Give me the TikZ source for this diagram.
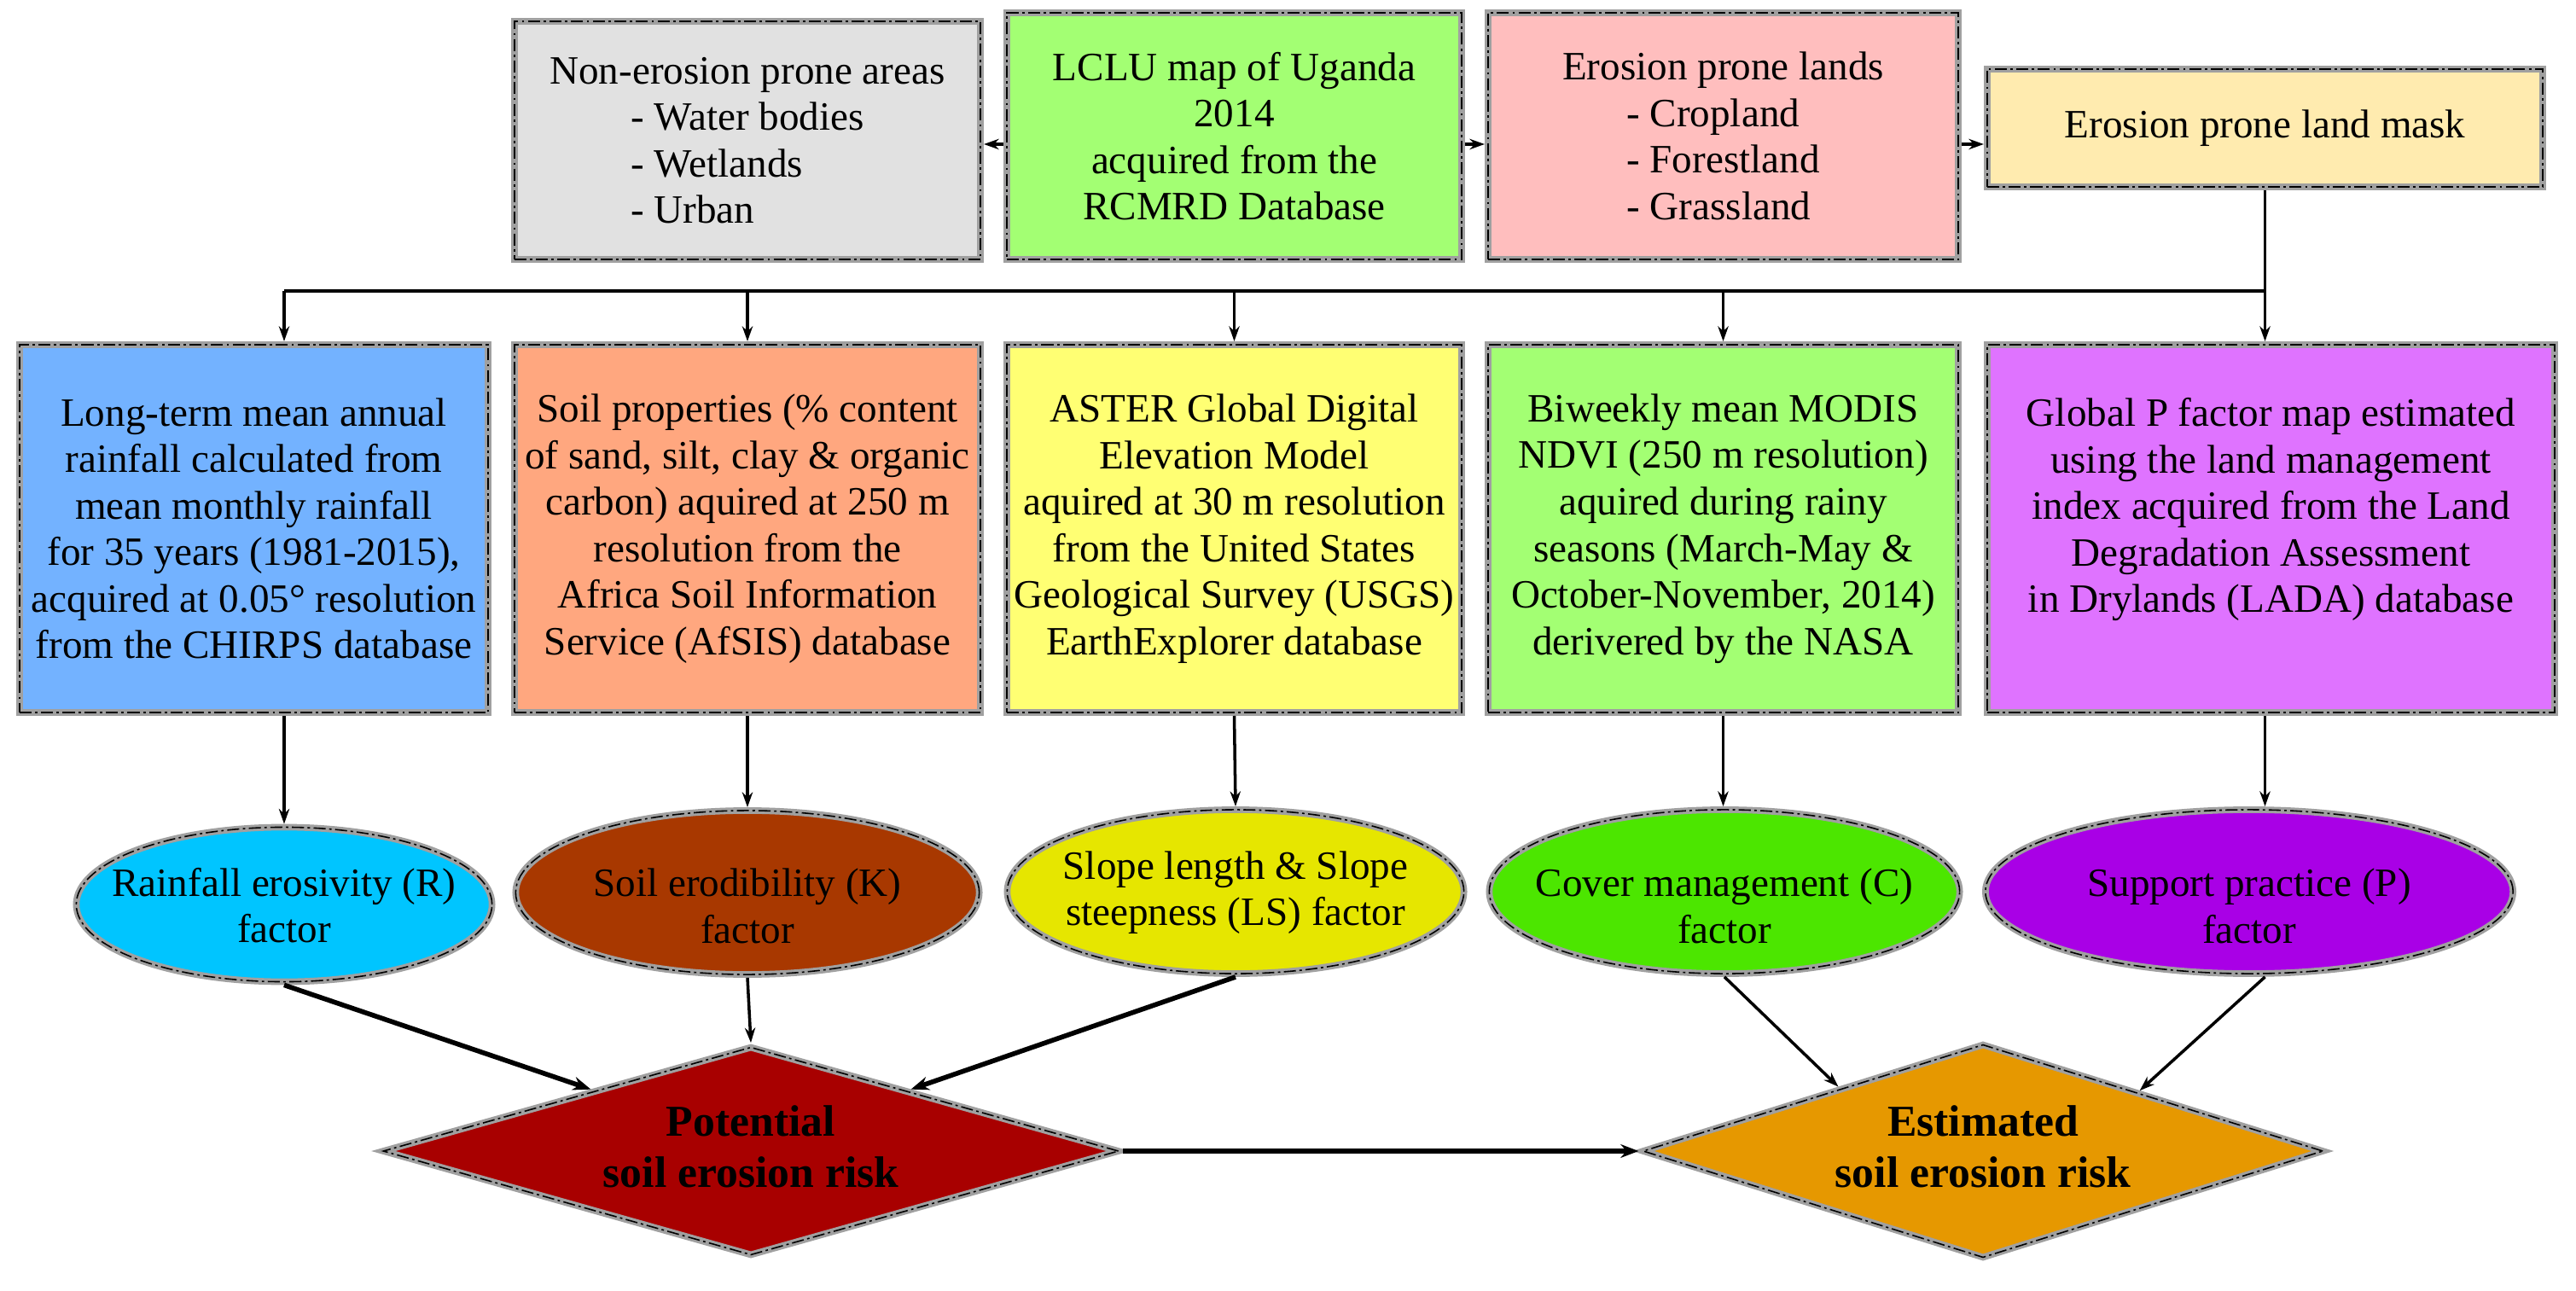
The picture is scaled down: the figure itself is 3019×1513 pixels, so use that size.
\documentclass[tikz,border=0pt]{standalone}
\usepackage{fontspec}
\setmainfont{Liberation Serif}
\usetikzlibrary{shapes.geometric,arrows.meta,calc}
\newlength{\lw}
\definecolor{cG}{RGB}{160,160,160}
\definecolor{cA}{HTML}{E1E1E1}
\definecolor{cB}{HTML}{A3FF73}
\definecolor{cC}{HTML}{FFBEBE}
\definecolor{cD}{HTML}{FFEBAF}
\definecolor{cE1}{HTML}{73B2FF}
\definecolor{cE2}{HTML}{FFA77F}
\definecolor{cE3}{HTML}{FFFF73}
\definecolor{cE4}{HTML}{A3FF73}
\definecolor{cE5}{HTML}{DF73FF}
\definecolor{cF1}{HTML}{00C5FF}
\definecolor{cF2}{HTML}{A83800}
\definecolor{cF3}{HTML}{E6E600}
\definecolor{cF4}{HTML}{4CE600}
\definecolor{cF5}{HTML}{A900E6}
\definecolor{cP}{HTML}{A80000}
\definecolor{cQ}{HTML}{E69800}
\begin{document}
\begin{tikzpicture}[x=0.01cm,y=-0.01cm,
  frame/.style={draw=cG, line width=2.2pt,
    postaction={draw=black, line width=0.45pt, dash pattern=on 4pt off 1.2pt on 0.8pt off 1.2pt}},
  box/.style={frame, rectangle, inner sep=2pt, align=center, font=\fontsize{13.4pt}{15.5pt}\selectfont},
  ell/.style={frame, ellipse, inner sep=0pt},
  dia/.style={frame, diamond, inner sep=0pt},
  elltext/.style={align=center, inner sep=0pt, font=\fontsize{13.4pt}{15.5pt}\selectfont},
  diatext/.style={align=center, inner sep=0pt, font=\bfseries\fontsize{14.7pt}{17pt}\selectfont},
  arr/.style={-{Stealth[length=5pt,width=3.5pt]}, line width=1pt},
  arrB/.style={-{Stealth[length=6pt,width=4.5pt]}, line width=1.6pt},
  bus/.style={line width=1pt}
]
\useasboundingbox (0,0) rectangle (3019,1513);

% top row
\node[box, fill=cA, minimum width=5.46cm, minimum height=2.79cm] (A) at (876,164.5)
  {\settowidth{\lw}{- Water bodies}\global\lw=\lw Non-erosion prone areas\\\makebox[\lw][l]{- Water bodies}\\\makebox[\lw][l]{- Wetlands}\\\makebox[\lw][l]{- Urban}};
\node[box, fill=cB, minimum width=5.33cm, minimum height=2.89cm] (B) at (1446.5,159.5)
  {LCLU map of Uganda\\2014\\acquired from the\\RCMRD Database};
\node[box, fill=cC, minimum width=5.51cm, minimum height=2.89cm] (C) at (2019.5,159.5)
  {\settowidth{\lw}{- Forestland}\global\lw=\lw Erosion prone lands\\\makebox[\lw][l]{- Cropland}\\\makebox[\lw][l]{- Forestland}\\\makebox[\lw][l]{- Grassland}};
\node[box, fill=cD, minimum width=6.51cm, minimum height=1.38cm] (D) at (2654.5,150)
  {Erosion prone land mask};

\coordinate (ay) at (0,169);
\draw[arr] (B.west |- ay) -- (A.east |- ay);
\draw[arr] (B.east |- ay) -- (C.west |- ay);
\draw[arr] (C.east |- ay) -- (D.west |- ay);

% second row
\node[box, fill=cE1, minimum width=5.49cm, minimum height=4.31cm] (E1) at (297.5,619.5)
  {Long-term mean annual\\rainfall calculated from\\mean monthly rainfall\\for 35 years (1981-2015),\\acquired at 0.05° resolution\\from the CHIRPS database};
\node[box, fill=cE2, minimum width=5.46cm, minimum height=4.31cm] (E2) at (876,619.5)
  {Soil properties (\% content\\of sand, silt, clay \& organic\\carbon) aquired at 250 m\\resolution from the\\Africa Soil Information\\Service (AfSIS) database};
\node[box, fill=cE3, minimum width=5.33cm, minimum height=4.31cm] (E3) at (1446.5,619.5)
  {ASTER Global Digital\\Elevation Model\\aquired at 30 m resolution\\from the United States\\Geological Survey (USGS)\\EarthExplorer database};
\node[box, fill=cE4, minimum width=5.51cm, minimum height=4.31cm] (E4) at (2019.5,619.5)
  {Biweekly mean MODIS\\NDVI (250 m resolution)\\aquired during rainy\\seasons (March-May \&\\October-November, 2014)\\derivered by the NASA};
\node[box, fill=cE5, minimum width=6.65cm, minimum height=4.31cm] (E5) at (2661.5,619.5)
  {Global P factor map estimated\\using the land management\\index acquired from the Land\\Degradation Assessment\\in Drylands (LADA) database\\~};

\coordinate (b1) at (333,341);
\coordinate (b5) at (2654.5,341);
\draw[bus] (D.south) -- (b5);
\draw[bus] (b1) -- (b5);
\draw[arr] (b1) -- (b1 |- E1.north);
\draw[arr] (E2.north |- b1) -- (E2.north);
\draw[arr] (E3.north |- b1) -- (E3.north);
\draw[arr] (E4.north |- b1) -- (E4.north);
\draw[arr] (b5) -- (b5 |- E5.north);

% ellipses
\node[ell, fill=cF1, minimum width=4.87cm, minimum height=1.81cm] (F1) at (333,1060) {};
\node[elltext] (F1t) at (333,1061) {Rainfall erosivity (R)\\factor};
\node[ell, fill=cF2, minimum width=5.43cm, minimum height=1.92cm] (F2) at (876,1046) {};
\node[elltext] (F2t) at (876,1062) {Soil erodibility (K)\\factor};
\node[ell, fill=cF3, minimum width=5.35cm, minimum height=1.92cm] (F3) at (1448,1045) {};
\node[elltext] (F3t) at (1448,1046) {Slope length \& Slope\\steepness (LS) factor};
\node[ell, fill=cF4, minimum width=5.51cm, minimum height=1.92cm] (F4) at (2021,1045) {};
\node[elltext] (F4t) at (2021,1062) {Cover management (C)\\factor};
\node[ell, fill=cF5, minimum width=6.18cm, minimum height=1.92cm] (F5) at (2636,1045) {};
\node[elltext] (F5t) at (2636,1062) {Support practice (P)\\factor};

\draw[arr] (b1 |- E1.south) -- (F1.north);
\draw[arr] (E2.south) -- (F2.north);
\draw[arr] (E3.south) -- (F3.north);
\draw[arr] (E4.south) -- (F4.north -| E4.south);
\draw[arr] (b5 |- E5.south) -- (b5 |- F5.north);

% diamonds
\node[dia, fill=cP, minimum width=8.64cm, minimum height=2.46cm] (P) at (880,1349) {};
\node[diatext] (Pt) at ([yshift=0.05cm]P) {Potential\\soil erosion risk};
\node[dia, fill=cQ, minimum width=7.99cm, minimum height=2.52cm] (Q) at (2324,1349) {};
\node[diatext] (Qt) at ([yshift=0.05cm]Q) {Estimated\\soil erosion risk};

\draw[arrB] (F1.south) -- ($(P.north)!0.43!(P.west)$);
\draw[arr] (F2.south) -- (P.north);
\draw[arrB] (F3.south) -- ($(P.north)!0.43!(P.east)$);
\draw[arr] (F4.south) -- ($(Q.north)!0.42!(Q.west)$);
\draw[arr] (b5 |- F5.south) -- ($(Q.north)!0.455!(Q.east)$);
\draw[arrB] (P.east) -- (Q.west);
\end{tikzpicture}
\end{document}
